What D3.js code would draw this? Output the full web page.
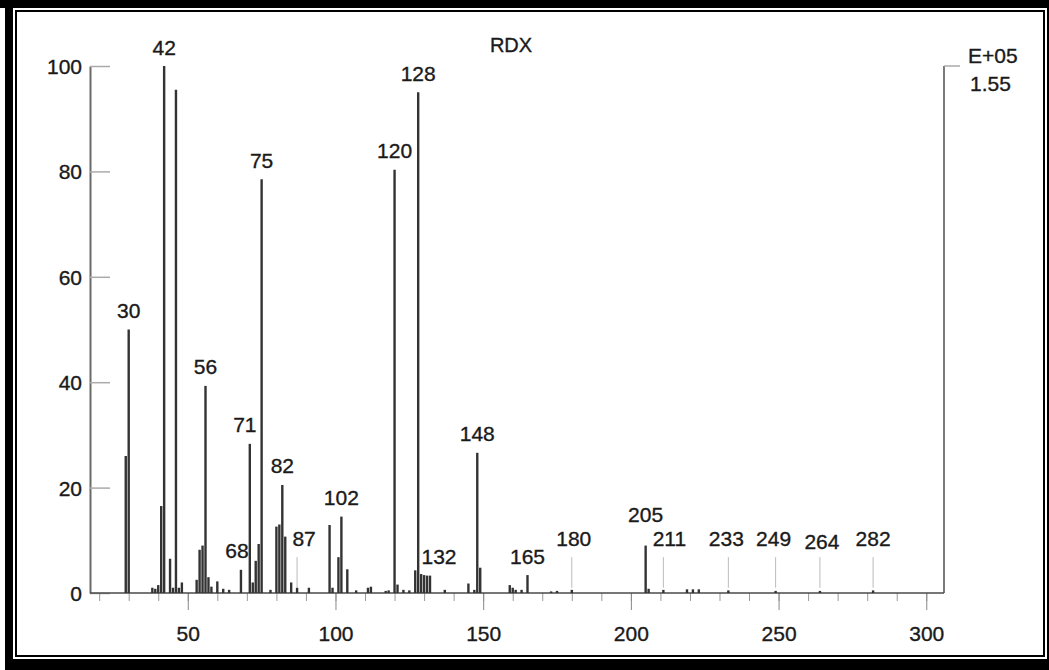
<!DOCTYPE html>
<html><head><meta charset="utf-8">
<script src="https://cdn.jsdelivr.net/npm/d3@7"></script>
<style>
body{margin:0;background:#fff}
svg{display:block}
text{font-family:"Liberation Sans",Arial,Helvetica,sans-serif;fill:#1a1a1a;stroke:#1a1a1a;stroke-width:0.35px}
</style>
</head><body>
<svg id="c" width="1049" height="670"></svg>
<script>
// ---------- data ----------
const title = "RDX";
const masses = [29,30,38,39,40,41,42,44,45,46,47,48,53,54,55,56,57,58,60,62,64,68,71,72,73,74,75,78,80,81,82,83,85,87,91,98,99,101,102,104,107,111,112,117,118,120,121,123,125,127,128,129,130,131,132,137,145,147,148,149,159,160,161,163,165,173,175,180,205,206,211,219,221,223,233,249,264,282];
const intensities = [26,50,1.0,0.8,1.5,16.5,100,6.5,1.0,95.5,1.0,2.0,2.5,8.2,9.0,39.3,3.0,1.2,2.2,0.8,0.6,4.4,28.3,2.0,6.1,9.3,78.5,0.6,12.6,13.0,20.5,10.7,2.0,1.0,1.0,12.9,1.0,6.8,14.5,4.5,0.5,1.0,1.2,0.4,0.5,80.3,1.6,0.6,0.5,4.3,95.0,3.6,3.4,3.3,3.3,0.6,1.8,0.6,26.6,4.8,1.5,1.0,0.6,0.6,3.4,0.3,0.4,0.6,9.0,0.8,0.6,0.7,0.7,0.7,0.5,0.4,0.4,0.5];
const barLabels = [30,42,56,68,71,75,82,102,120,128,132,148,165,205];
const leaderLabels = [87,180,211,233,249,264,282];
const yTicks = [0,20,40,60,80,100];
const xMajorTicks = [50,100,150,200,250,300];
const xMinorTicks = d3.range(20,301,10);
const scaleNote = ["E+05","1.55"];

// ---------- layout ----------
const svg = d3.select("#c");
const x = d3.scaleLinear().domain([16.9,306]).range([90,944]);
const y = d3.scaleLinear().domain([0,100]).range([593,66]);
const nudge = {71:{dx:-5},68:{dx:-4},87:{dx:7},132:{dx:9},205:{dy:-12},211:{dx:6},180:{dx:2},233:{dx:-2},249:{dx:-2},264:{dx:2,dy:3}};
const leaderTop = 6.8, leaderBottom = 1.0;

// frame
svg.append("rect").attr("x",0).attr("y",0).attr("width",1049).attr("height",670).attr("fill","#000");
svg.append("rect").attr("x",0).attr("y",8).attr("width",5).attr("height",662).attr("fill","#fff");
svg.append("rect").attr("x",13).attr("y",8).attr("width",1034).attr("height",651).attr("fill","#fff");
svg.append("rect").attr("x",16).attr("y",11).attr("width",1028).attr("height",645).attr("fill","none").attr("stroke","#000").attr("stroke-width",2);
svg.append("rect").attr("x",17).attr("y",12).attr("width",1026).attr("height",643).attr("fill","#fff");

// y axis
const yAxis = svg.append("g").attr("transform","translate(90,0)")
  .call(d3.axisLeft(y).tickValues(yTicks).tickSizeInner(-20).tickSizeOuter(0).tickPadding(8));
yAxis.select(".domain").attr("stroke","#6a6a6a").attr("stroke-width",2);
yAxis.selectAll(".tick line").attr("stroke","#aaa").attr("stroke-width",1.5);
yAxis.selectAll(".tick text").attr("font-size",21).attr("fill","#1a1a1a").attr("dy","0.36em");

// right axis
svg.append("line").attr("x1",944).attr("x2",944).attr("y1",y(100)).attr("y2",y(0)).attr("stroke","#7a7a7a").attr("stroke-width",2);
svg.append("line").attr("x1",944).attr("x2",960).attr("y1",y(100)).attr("y2",y(100)).attr("stroke","#aaa").attr("stroke-width",1.5);
svg.append("text").attr("x",968).attr("y",63).attr("font-size",21).text(scaleNote[0]);
svg.append("text").attr("x",970).attr("y",91).attr("font-size",21).text(scaleNote[1]);

// x axis
const xMin = svg.append("g").attr("transform","translate(0,593)")
  .call(d3.axisBottom(x).tickValues(xMinorTicks).tickSize(8).tickFormat(""));
xMin.select(".domain").remove();
xMin.selectAll(".tick line").attr("stroke","#999").attr("stroke-width",1);
const xMaj = svg.append("g").attr("transform","translate(0,593)")
  .call(d3.axisBottom(x).tickValues(xMajorTicks).tickSize(17).tickFormat(d3.format("d")));
xMaj.select(".domain").remove();
xMaj.selectAll(".tick line").attr("stroke","#888").attr("stroke-width",1);
xMaj.selectAll(".tick text").attr("font-size",21).attr("fill","#1a1a1a").attr("y",48).attr("dy",0);
svg.append("line").attr("x1",90).attr("x2",944).attr("y1",593).attr("y2",593).attr("stroke","#4a4a4a").attr("stroke-width",1.6);

// title
svg.append("text").attr("x",511).attr("y",52).attr("text-anchor","middle").attr("font-size",20).text(title);

// bars
const data = masses.map((m,i)=>({m, v:intensities[i]}));
svg.append("g").selectAll("line").data(data).join("line")
  .attr("x1",d=>x(d.m)).attr("x2",d=>x(d.m))
  .attr("y1",y(0)).attr("y2",d=>y(d.v))
  .attr("stroke","#333").attr("stroke-width",2.4);

// leader lines
svg.append("g").selectAll("line").data(leaderLabels).join("line")
  .attr("x1",d=>x(d)).attr("x2",d=>x(d))
  .attr("y1",y(leaderTop)).attr("y2",y(leaderBottom))
  .attr("stroke","#bbb").attr("stroke-width",1);

// labels
const lab = svg.append("g").attr("font-size",21).attr("text-anchor","middle");
barLabels.forEach(m=>{
  const v = intensities[masses.indexOf(m)];
  const n = nudge[m]||{};
  lab.append("text").attr("x",x(m)+(n.dx||0)).attr("y",y(v)-11.5+(n.dy||0)).text(m);
});
leaderLabels.forEach(m=>{
  const n = nudge[m]||{};
  lab.append("text").attr("x",x(m)+(n.dx||0)).attr("y",y(leaderTop)-11+(n.dy||0)).text(m);
});
</script>
</body></html>
